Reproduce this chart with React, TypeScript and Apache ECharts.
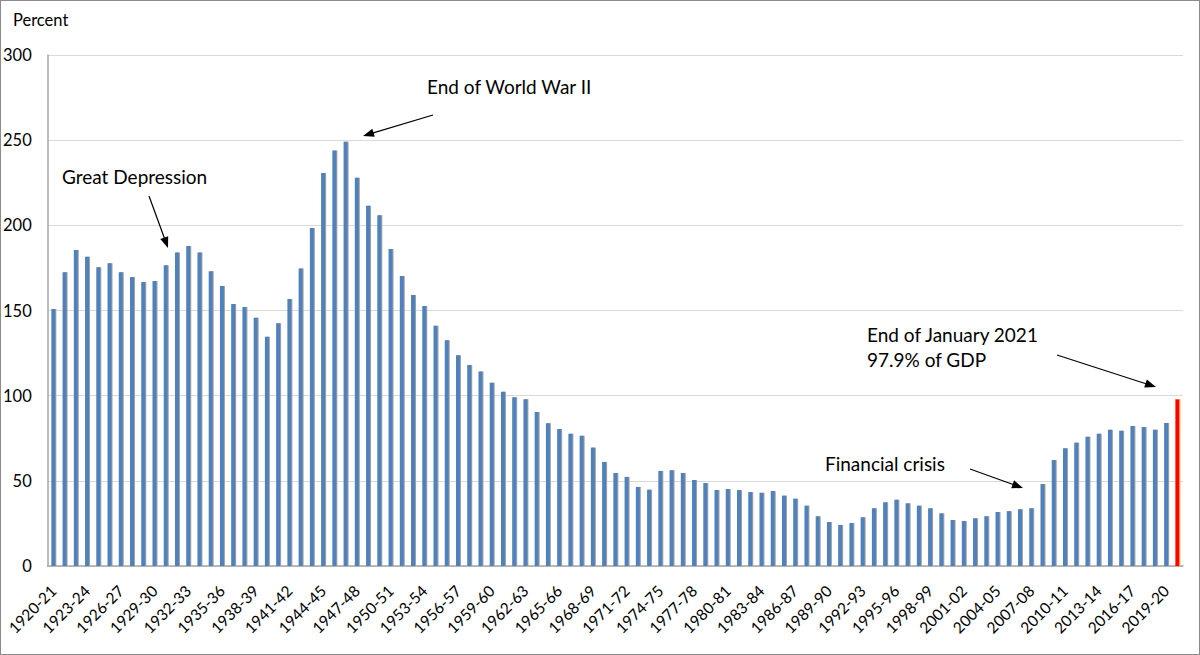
import React, { useEffect, useRef } from "react";
import * as echarts from "echarts";

// Fiscal years 1920-21 ... 2019-20, then the latest monthly reading
const firstYear = 1920;
const yearCount = 100;
const categories: string[] = [];
for (let i = 0; i < yearCount; i++) {
  const y = firstYear + i;
  categories.push(`${y}-${String((y + 1) % 100).padStart(2, "0")}`);
}
const latestLabel = "Jan 2021";
categories.push(latestLabel);

// Debt as percent of GDP
const debtValues: number[] = [
  150.9, 172.4, 185.5, 181.6, 175.4, 177.7, 172.4, 169.7, 166.7, 167.3,
  176.5, 184.0, 187.9, 184.0, 173.0, 164.4, 153.8, 152.0, 145.8, 134.6,
  142.5, 156.8, 174.6, 198.4, 230.7, 244.0, 249.0, 227.9, 211.5, 205.9,
  186.1, 170.2, 159.1, 152.6, 141.1, 132.5, 123.8, 118.0, 114.2, 107.6,
  102.3, 99.0, 97.9, 90.4, 83.8, 80.4, 77.7, 76.5, 69.5, 61.1,
  54.6, 52.3, 46.4, 44.8, 55.8, 56.2, 54.6, 50.5, 48.7, 44.6,
  45.2, 44.6, 43.4, 43.0, 44.0, 41.3, 39.5, 35.4, 29.2, 25.8,
  24.1, 25.2, 28.6, 33.9, 37.4, 38.9, 36.8, 35.4, 33.9, 30.9,
  27.0, 26.4, 28.0, 29.2, 31.7, 32.2, 33.3, 33.9, 48.1, 62.2,
  69.1, 72.4, 75.9, 77.7, 80.0, 79.4, 82.2, 81.6, 80.0, 83.9,
];
const latestValue = 97.9;

const yMin = 0;
const yMax = 300;
const yInterval = 50;

const FONT = "Lato, 'Noto Sans', sans-serif";

function arrow(x1: number, y1: number, x2: number, y2: number) {
  const ang = Math.atan2(y2 - y1, x2 - x1);
  const len = 11;
  const w = 4.2;
  const c = Math.cos(ang);
  const s = Math.sin(ang);
  const bx = x2 - len * c;
  const by = y2 - len * s;
  const px = -s * w;
  const py = c * w;
  return [
    {
      type: "line",
      shape: { x1, y1, x2: bx + 2 * c, y2: by + 2 * s },
      style: { stroke: "#000", lineWidth: 1.2 },
      z: 100,
    },
    {
      type: "polygon",
      shape: { points: [[x2, y2], [bx + px, by + py], [bx - px, by - py]] },
      style: { fill: "#000" },
      z: 100,
    },
  ];
}

function label(text: string, x: number, y: number, size = 19) {
  return {
    type: "text",
    x,
    y,
    z: 100,
    style: {
      text,
      fill: "#000",
      fontSize: size,
      fontFamily: FONT,
      verticalAlign: "middle",
      align: "left",
    },
  };
}

export default function App() {
  const ref = useRef<HTMLDivElement>(null);

  useEffect(() => {
    if (!ref.current) return;
    const chart = echarts.init(ref.current, undefined, { renderer: "svg" });

    const seriesData: any[] = debtValues.map((v) => v);
    seriesData.push({
      value: latestValue,
      itemStyle: { color: "#FF0000", shadowColor: "#F5B041" },
    });

    chart.setOption({
      animation: false,
      backgroundColor: "#fff",
      grid: { left: 46, right: 17, top: 55, bottom: 89, containLabel: false },
      xAxis: {
        type: "category",
        data: categories,
        boundaryGap: true,
        axisLine: { show: true, lineStyle: { color: "#a6a6a6", width: 1.5 } },
        axisTick: { show: false },
        axisLabel: {
          interval: 2,
          rotate: 45,
          margin: 22,
          color: "#000",
          fontSize: 15.5,
          fontFamily: FONT,
        },
        splitLine: { show: false },
      },
      yAxis: {
        type: "value",
        min: yMin,
        max: yMax,
        interval: yInterval,
        axisLine: { show: true, lineStyle: { color: "#a6a6a6", width: 1.5 } },
        axisTick: { show: false },
        axisLabel: {
          color: "#000",
          fontSize: 16.5,
          fontFamily: FONT,
          margin: 16,
        },
        splitLine: { show: true, lineStyle: { color: "#d9d9d9", width: 1 } },
      },
      series: [
        {
          type: "bar",
          data: seriesData,
          barWidth: 4,
          itemStyle: {
            color: "#4F81BD",
            shadowColor: "#a0a0a0",
            shadowOffsetX: 1,
            shadowBlur: 0,
          },
        },
      ],
      graphic: [
        label("Percent", 13, 20, 16.5),
        label("End of World War II", 427, 86),
        ...arrow(433, 115, 363, 136),
        label("Great Depression", 62, 176),
        ...arrow(149, 196, 168, 248),
        label("End of January 2021", 867, 334),
        label("97.9% of GDP", 867, 359),
        ...arrow(1057, 355, 1156, 387),
        label("Financial crisis", 825, 463),
        ...arrow(970, 469, 1023, 488),
      ],
    });

    return () => chart.dispose();
  }, []);

  return (
    <div
      style={{
        position: "fixed",
        left: 0,
        top: 0,
        width: 1200,
        height: 655,
        background: "#fff",
      }}
    >
      <div ref={ref} style={{ position: "absolute", left: 0, top: 0, width: 1200, height: 655 }} />
      <div
        style={{
          position: "absolute",
          left: 0,
          top: 0,
          width: 1200,
          height: 655,
          boxSizing: "border-box",
          border: "1px solid #8c8c8c",
          pointerEvents: "none",
        }}
      />
    </div>
  );
}
